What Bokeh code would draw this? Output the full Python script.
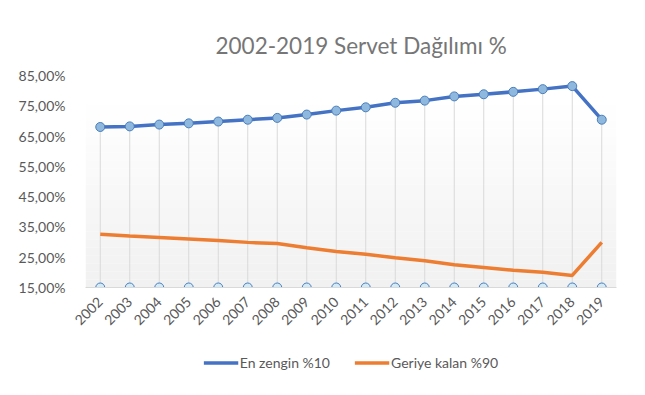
from math import pi
from bokeh.plotting import figure
from bokeh.layouts import column
from bokeh.models import FixedTicker, Range1d, Legend, LegendItem, BoxAnnotation
from bokeh.embed import file_html
from bokeh.resources import INLINE

years = [2002, 2003, 2004, 2005, 2006, 2007, 2008, 2009, 2010,
         2011, 2012, 2013, 2014, 2015, 2016, 2017, 2018, 2019]
top10 = [68.0, 68.2, 68.8, 69.2, 69.8, 70.4, 71.0, 72.1, 73.4,
         74.5, 76.0, 76.7, 78.1, 78.8, 79.6, 80.5, 81.5, 70.4]
rest90 = [32.6, 32.0, 31.5, 31.0, 30.5, 29.9, 29.5, 28.1, 26.9,
          26.0, 24.8, 23.8, 22.5, 21.6, 20.7, 20.0, 19.0, 29.9]
base = [15.0, 15.0, 15.0, 15.0, 15.0, 15.0, 15.0, 15.0, 15.0,
        15.0, 15.0, 15.0, 15.0, 15.0, 15.0, 15.0, 15.0, 15.0]
y_ticks = [15, 25, 35, 45, 55, 65, 75, 85]
y_labels = ["15,00%", "25,00%", "35,00%", "45,00%", "55,00%", "65,00%", "75,00%", "85,00%"]
series_names = ["En zengin %10", "Geriye kalan %90"]
title_text = "2002-2019  Servet  Dağılımı %"

FONT = "Lato"
TXT = "#595959"
BLUE = "#4472c4"
ORANGE = "#ed7d31"

p = figure(frame_width=531, frame_height=212, output_backend="svg", toolbar_location=None,
           x_range=Range1d(2001.5, 2019.5), y_range=Range1d(15, 85),
           min_border_left=85, min_border_right=29, min_border_top=75, min_border_bottom=62)
p.outline_line_color = None
p.background_fill_color = "white"
p.border_fill_color = "white"
p.xgrid.visible = False
p.ygrid.visible = False

# gradient background of plot area
N = 24
lo, hi = 15.0, 78.0
for i in range(N):
    b = lo + (hi - lo) * i / N
    t = lo + (hi - lo) * (i + 1) / N
    f = i / (N - 1)
    c = int(round(241 + (255 - 241) * f))
    p.add_layout(BoxAnnotation(bottom=b, top=t, fill_color=f"#{c:02x}{c:02x}{c:02x}",
                               fill_alpha=1.0, line_color=None, level="underlay"))

# title
p.title.text = title_text
p.title.align = "left"
p.title.text_font = FONT
p.title.text_font_size = "22.5px"
p.title.text_font_style = "normal"
p.title.text_color = "#767676"
p.title.standoff = 34
p.title.offset = 130

# drop lines
p.segment(x0=years, y0=base, x1=years, y1=top10, line_color="#d9d9d9", line_width=1)

p.line(years, top10, line_color=BLUE, line_width=3.5)
p.scatter(years, top10, size=9, fill_color="#8fb8de", line_color="#4a7ebb", line_width=1)
p.line(years, rest90, line_color=ORANGE, line_width=3.5)
p.scatter(years, base, size=9, fill_color="#d2ebf7", line_color="#4a7ebb", line_width=1)

# axes
p.yaxis.ticker = FixedTicker(ticks=y_ticks)
p.yaxis.major_label_overrides = {t: l for t, l in zip(y_ticks, y_labels)}
p.yaxis.axis_line_color = None
p.yaxis.major_tick_line_color = None
p.yaxis.minor_tick_line_color = None
p.yaxis.major_label_standoff = 14
p.yaxis.major_label_text_font = FONT
p.yaxis.major_label_text_font_size = "14px"
p.yaxis.major_label_text_color = TXT

p.xaxis.ticker = FixedTicker(ticks=years)
p.xaxis.major_label_overrides = {y: str(y) for y in years}
p.xaxis.axis_line_color = "#d9d9d9"
p.xaxis.major_tick_line_color = None
p.xaxis.minor_tick_line_color = None
p.xaxis.major_label_orientation = pi / 4
p.xaxis.major_label_standoff = 6
p.xaxis.major_label_text_font = FONT
p.xaxis.major_label_text_font_size = "14px"
p.xaxis.major_label_text_color = TXT

# legend strip (separate small figure below the chart)
p2 = figure(width=645, height=26, output_backend="svg", toolbar_location=None,
            x_range=Range1d(0, 1), y_range=Range1d(0, 1),
            x_axis_type=None, y_axis_type=None,
            min_border_left=0, min_border_right=0, min_border_top=0, min_border_bottom=0)
p2.outline_line_color = None
p2.background_fill_color = "white"
p2.border_fill_color = "white"
p2.grid.visible = False
l1 = p2.line(years, top10, line_color=BLUE, line_width=3.5)
l2 = p2.line(years, rest90, line_color=ORANGE, line_width=3.5)

legend = Legend(items=[LegendItem(label=series_names[0], renderers=[l1]),
                       LegendItem(label=series_names[1], renderers=[l2])],
                orientation="horizontal", location="center",
                label_text_font=FONT, label_text_font_size="14px", label_text_color=TXT,
                glyph_width=35, glyph_height=14, spacing=24, label_standoff=2,
                border_line_color=None, background_fill_alpha=0, margin=0, padding=4)
p2.add_layout(legend, "center")

open("out.html", "w").write(file_html(column(p, p2), INLINE))
